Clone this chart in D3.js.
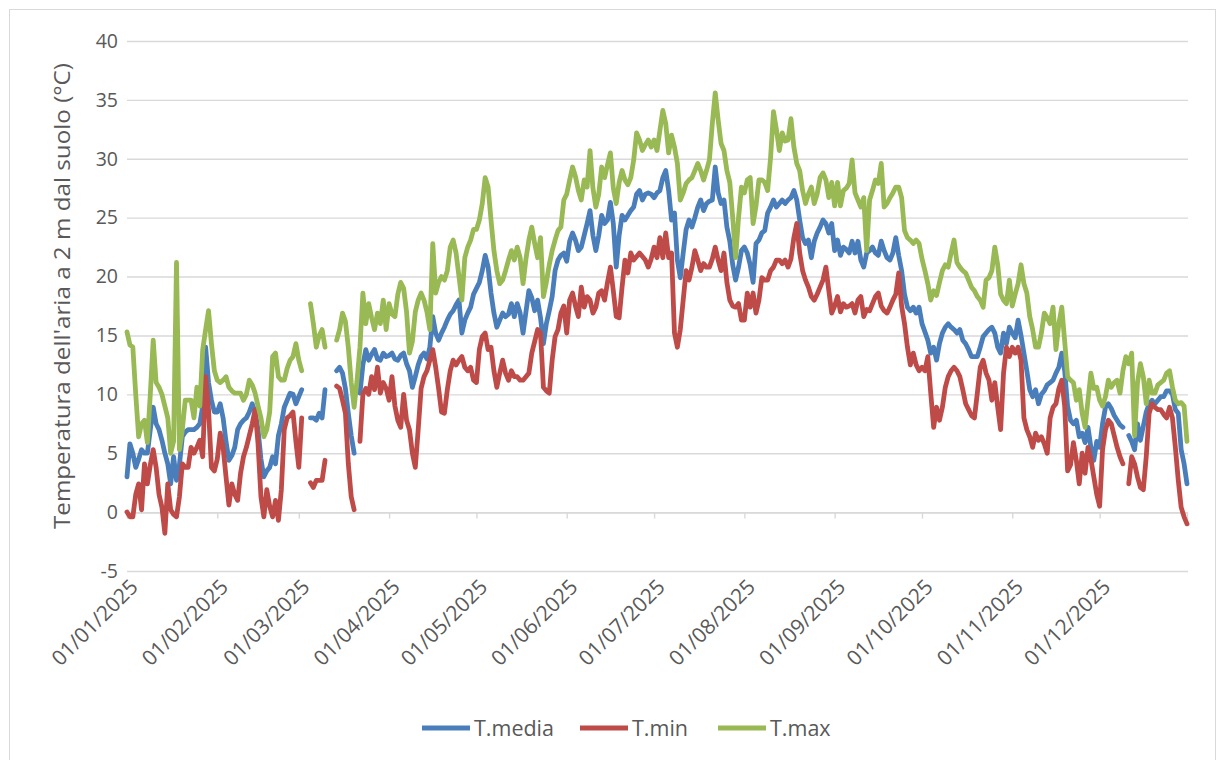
<!DOCTYPE html>
<html>
<head>
<meta charset="utf-8">
<script src="https://cdn.jsdelivr.net/npm/d3@7"></script>
<style>
  body { margin: 0; background: #fff; }
  svg text { font-family: "Open Sans", "Noto Sans", sans-serif; fill: #595959; }
</style>
</head>
<body>
<svg id="chart" width="1225" height="760"></svg>
<script>
// daily values, 01/01/2025 .. 31/12/2025 (null = missing day)
var tMedia = [
    // jan
    3, 5.8, 5, 3.8, 4.5, 5.3, 5, 5, 7, 8.9, 7.5, 7, 6.1, 5, 4.1, 2.4, 4.7, 2.7, 4, 6.4, 6.8, 7, 7, 7, 7.2, 7.5, 9, 14, 11, 9.5, 8.5,
    // feb
    8.5, 9.2, 8, 6, 4.4, 4.8, 5.5, 7, 7.5, 7.8, 8, 8.5, 9.2, 8.5, 7, 4.5, 3, 3.5, 3.8, 4.7, 4.1, 6.5, 7.5, 8.9, 9.5, 10.1, 10, 9.2,
    // mar
    9.8, 10.4, null, null, 8, 8, 7.8, 8.4, 8, 10.4, null, null, null, 12, 12.3, 11.8, 10.5, 8.4, 6.5, 5, null, 10.1, 12.5, 13.8, 12.9, 13.4, 13.8, 13, 12.9, 13.5, 13.2,
    // apr
    13.3, 13.5, 13, 12.9, 13.3, 13.5, 12.6, 12, 10.6, 11.5, 12.5, 13.2, 13.5, 13, 14, 16.6, 15.2, 14.6, 15.2, 15.7, 16.3, 16.8, 17.1, 17.6, 18, 15.2, 16.3, 16.9, 17.4, 18.5,
    // may
    19, 19.5, 20.5, 21.8, 20.8, 18.6, 16.9, 15.7, 16.3, 16.9, 16.6, 16.8, 17.7, 16.6, 17.7, 16.9, 15.2, 17, 18.8, 18.2, 17.1, 18, 16.5, 14.3, 16, 17.1, 18.3, 20.5, 21.4, 21.8, 22,
    // jun
    21.3, 23, 23.7, 23.1, 22.2, 22.5, 23.5, 24.5, 25.6, 23.5, 22.2, 23.5, 25.2, 24.5, 24.8, 26.3, 24.5, 20.8, 23.5, 25.2, 24.8, 25.2, 25.6, 25.9, 27, 27.3, 26.5, 27, 27.1, 27,
    // jul
    26.7, 27.1, 27.3, 28.4, 29, 27.3, 24.8, 25.4, 21.4, 19.9, 22, 24, 24.8, 24.2, 25, 25.9, 26.5, 25.6, 26.2, 26.4, 26.5, 29.3, 27.1, 26.2, 26.5, 24.2, 23, 21, 19.7, 20.8, 22.2,
    // aug
    22.5, 22, 21, 19.5, 22.8, 23.1, 23.7, 23.9, 25.4, 25.9, 26.5, 25.9, 26.2, 26.5, 26.2, 26.5, 26.7, 27.3, 26.5, 24.8, 23.3, 22.8, 23.1, 21.6, 23, 23.7, 24.2, 24.8, 24.5, 23.7, 24.5,
    // sep
    22.2, 23.1, 21.8, 22.5, 22.3, 22, 23, 22, 23, 21.4, 20.8, 22, 22.2, 22.5, 22, 21.8, 23, 22.2, 21.6, 21.4, 22, 23.3, 21.8, 20.5, 18.5, 17.4, 17.1, 17.4, 16.9, 17.4,
    // oct
    16, 15.3, 14.6, 13.5, 14, 12.9, 14.3, 15.2, 15.7, 16, 15.7, 15.5, 15.2, 15.5, 14.6, 14.3, 13.8, 13.2, 13.2, 13.2, 14, 14.9, 15.2, 15.5, 15.7, 15.2, 14, 13.5, 15.2, 14.3, 15.7,
    // nov
    15.2, 14.8, 16.3, 15, 13.5, 12, 10.4, 9.8, 10.4, 9.2, 10, 10.3, 10.8, 11, 11.2, 11.8, 12.3, 13.5, 12, 9, 7.8, 7.5, 7.8, 6.4, 6.7, 5.9, 7.2, 5.5, 4.4, 6,
    // dec
    5.5, 7.5, 8.9, 9.2, 8.8, 8.2, 7.8, 7.4, 7.2, null, 6.5, 6, 5.3, 7.5, 6.1, 7.3, 8.5, 9.2, 9.5, 9.2, 9.5, 9.8, 9.8, 10.3, 10.3, 10, 8.7, 8.4, 5.3, 4.1, 2.4
];

var tMin = [
    // jan
    0, -0.4, -0.4, 1.5, 2.4, 0.2, 4.1, 2.4, 4, 5.3, 3.8, 1.5, 0.4, -1.8, 2.4, 0.2, -0.2, -0.4, 1.3, 4.1, 3.8, 3.8, 5.5, 5, 5.5, 6.1, 4.7, 11.5, 8.7, 3.8, 3.5,
    // feb
    4.5, 6.7, 5.5, 3, 0.6, 2.4, 1.5, 1, 3.3, 4.7, 5.5, 6.5, 7.5, 8.7, 5.8, 1.3, -0.4, 1.9, 0.5, -0.4, 1, -0.7, 1.9, 7, 8, 8.2, 8.5, 6,
    // mar
    3.8, 8, null, null, 2.5, 2.1, 2.7, 2.7, 2.7, 4.4, null, null, null, 10.7, 10.5, 9.5, 8.4, 4.1, 1.3, 0.2, null, 6, 10, 10.5, 10, 11.5, 10.4, 12.3, 10.1, 11, 10.5,
    // apr
    9.5, 11.5, 9, 7.8, 7.2, 10, 7.8, 7, 5, 3.8, 7, 10.5, 11.5, 12, 12.9, 13.8, 12.3, 10.5, 8.5, 8.4, 10.4, 12, 12.9, 12.5, 12.9, 13.2, 12.3, 12, 12.3, 11.2,
    // may
    11, 13.8, 14.9, 15.2, 13.8, 14, 12, 10.6, 11.8, 12.9, 11.8, 11.2, 12, 11.5, 11.5, 11.2, 11.2, 11.5, 11.8, 13.5, 14.5, 15.5, 15.2, 10.6, 10.3, 10.1, 12.9, 14.9, 15.5, 16.9, 17.5,
    // jun
    15.2, 18, 18.6, 17.5, 16.6, 19.1, 17.4, 18.3, 18, 16.9, 17.4, 18.6, 18.8, 18, 19.5, 20.8, 18.8, 16.6, 16.5, 19.1, 21.4, 20.3, 22, 21.4, 21.7, 22, 21.7, 21.4, 20.8, 21.5,
    // jul
    22.5, 21.6, 23.3, 21.6, 23.7, 21.6, 22, 15.2, 14, 15.5, 18, 20.5, 19.7, 20.8, 22.2, 21.4, 20.5, 21.1, 20.8, 20.8, 21.5, 22.5, 21.4, 20.5, 22, 19.5, 18, 17.5, 17.4, 17.7, 16.3,
    // aug
    16.3, 18.6, 17.4, 18.6, 16.9, 18, 19.9, 19.7, 19.7, 20.5, 20.8, 21.4, 21.4, 21.1, 21.4, 20.8, 21.5, 23.3, 24.5, 22, 20.5, 19.7, 19.1, 18.3, 18, 18.5, 19.1, 19.7, 20.8, 18.8, 16.9,
    // sep
    17.5, 18.3, 17, 17.7, 17.4, 17.5, 17.7, 16.9, 18, 18.3, 16.6, 17.2, 17.1, 17.7, 18.3, 18.6, 17.5, 17.1, 16.9, 17.4, 18, 18.5, 20.3, 17.5, 16, 14, 12.5, 13.5, 12.5, 12,
    // oct
    12.3, 12, 13.2, 10.1, 7.2, 8.9, 7.8, 8.9, 10.6, 11.5, 12, 12.3, 12, 11.5, 10.4, 9.2, 8.7, 8.2, 8, 10.1, 12.3, 12.9, 11.8, 11.2, 9.5, 11, 8.9, 7, 11.8, 14, 13.2,
    // nov
    14, 13.5, 14, 12.9, 8, 7, 6.4, 5.5, 6.7, 6.1, 6.4, 5.8, 5, 8, 8.9, 9.2, 10.5, 11.2, 9, 3.5, 4, 5.9, 4.4, 2.4, 5, 3.3, 5.5, 4.5, 3, 1.5,
    // dec
    0.5, 5.3, 7, 7.8, 7.5, 6.5, 5.5, 4.7, 4.1, null, 2.4, 4.7, 4.1, 3, 2.1, 1.9, 4.7, 8.4, 9.2, 8.9, 8.7, 8.7, 8.3, 8, 8.9, 8, 5.5, 2.7, 0.4, -0.4, -1
];

var tMax = [
    // jan
    15.3, 14.2, 14, 10, 6.4, 7.5, 7.8, 5.9, 10, 14.6, 11, 10.6, 10, 9, 8, 5, 6, 21.2, 5.3, 7, 9.5, 9.5, 9.5, 8, 10.6, 9, 13.8, 15.5, 17.1, 14.3, 12,
    // feb
    11.2, 11, 11.2, 11.5, 10.6, 10.3, 10.1, 10.1, 10.1, 9.5, 10, 11.2, 10.8, 10.1, 9, 8, 6.4, 7, 8.5, 13.2, 13.5, 11.5, 11.2, 11.2, 12.2, 12.9, 13.2, 14.3,
    // mar
    12.9, 12, null, null, 17.7, 16, 14, 15, 15.5, 14, null, null, null, 14.6, 15.5, 16.9, 16.2, 14, 11, 8.9, 11.2, 14, 18.6, 16, 17.7, 16.5, 15.5, 16.9, 16, 18, 15.5,
    // apr
    17.7, 16.8, 16.6, 18.5, 19.5, 19, 17, 13.5, 14.5, 17, 18, 18.6, 18, 17, 15.5, 22.8, 18.6, 19.5, 20, 19.7, 20.5, 22.5, 23.1, 22, 20, 18, 21.6, 22.5, 23.1, 24,
    // may
    24, 24.8, 26.2, 28.4, 27.6, 24.8, 22.2, 20.5, 19.4, 19.7, 20.5, 21.4, 22.2, 21.4, 22.5, 21.6, 19.4, 21.5, 23.1, 24.2, 22.8, 21.6, 23.3, 18.3, 19.5, 21, 22.2, 23.1, 23.9, 24.2, 26.5,
    // jun
    27, 28.2, 29.3, 28.5, 27.3, 26.5, 28.2, 27.6, 30.7, 27.5, 25.9, 27, 29.3, 28.4, 29.5, 30.5, 27.5, 26.2, 28, 29, 28.2, 27.8, 28.4, 29.9, 32.2, 31.6, 30.7, 31.2, 31.6, 31,
    // jul
    31.6, 30.7, 32.4, 34.1, 33, 30.5, 32, 31, 29.6, 26.5, 27.1, 27.9, 28.2, 28.4, 29, 29.6, 29, 28.2, 29, 29.9, 33, 35.6, 33.3, 31.3, 30.7, 29, 28, 25, 21.6, 25, 27.6,
    // aug
    27.1, 28.2, 28.4, 24.5, 26, 28.2, 28.2, 28, 27.3, 30.1, 34, 32.5, 30.7, 32.2, 31.5, 31.6, 33.4, 31, 29.6, 29, 27.3, 26.2, 27, 27.6, 26.2, 27, 28.4, 28.8, 28.2, 26.7, 28,
    // sep
    26, 28, 26, 27.3, 27.5, 27.9, 29.9, 27.1, 26.5, 25.9, 26.7, 22.2, 26.5, 27.3, 28.2, 27.9, 29.6, 25.9, 26.2, 26.7, 27.1, 27.6, 27.6, 26.7, 23.9, 23.3, 23.1, 22.8, 23.1, 22.8,
    // oct
    21.5, 20.5, 19.4, 18, 18.8, 18.4, 19.5, 20.5, 21, 20.8, 22, 23.1, 21.2, 20.8, 20.5, 20.3, 19.7, 19.1, 18.8, 18.3, 18, 17.4, 19.7, 19.9, 20.5, 22.5, 21, 18.5, 18, 17.7, 19.7,
    // nov
    17.5, 18.5, 19.4, 21, 19.4, 18.6, 16.6, 15.5, 14, 14, 15.2, 16.9, 16.5, 16, 17.4, 13.8, 16, 17.4, 14.5, 11.5, 11.2, 11, 9.5, 10.4, 8.4, 7.2, 9.5, 11.8, 10.5, 10.6,
    // dec
    9.5, 9, 9.8, 11.2, 10.6, 11, 11.2, 10.1, 12, 13.2, 12.6, 13.5, 6.5, 11, 12.6, 11.5, 9.2, 11.2, 10.1, 10.1, 10.8, 11, 11.2, 11.8, 12, 10.6, 9.5, 9.2, 9.3, 9, 6
];

var seriesNames = ["T.media", "T.min", "T.max"];
var seriesColors = ["#4a7ebb", "#be4b48", "#98b954"];
var yTicks = [-5, 0, 5, 10, 15, 20, 25, 30, 35, 40];
var yTitle = "Temperatura dell'aria a 2 m dal suolo (°C)";

var parseDay = d3.timeParse("%Y-%m-%d");
var days = d3.timeDay.range(parseDay("2025-01-01"), parseDay("2026-01-01"));
var monthStarts = d3.timeMonth.range(parseDay("2025-01-01"), parseDay("2026-01-01"));

var svg = d3.select("#chart");

// chart area border
svg.append("rect")
    .attr("x", 9.5).attr("y", 9.5)
    .attr("width", 1206).attr("height", 770)
    .attr("fill", "none")
    .attr("stroke", "#d9d9d9");

var x = d3.scaleTime()
    .domain([days[0], days[days.length - 1]])
    .range([127, 1187]);

var y = d3.scaleLinear()
    .domain([-5, 40])
    .range([571, 41]);

// gridlines
svg.append("g")
    .selectAll("line")
    .data(yTicks)
    .enter().append("line")
    .attr("x1", 127).attr("x2", 1188)
    .attr("y1", function (d) { return y(d) + 0.5; })
    .attr("y2", function (d) { return y(d) + 0.5; })
    .attr("stroke", "#d9d9d9")
    .attr("stroke-width", 1.4);

// y labels
var yAxis = svg.append("g")
    .attr("transform", "translate(118,0)")
    .call(d3.axisLeft(y).tickValues(yTicks).tickSize(0).tickPadding(0)
        .tickFormat(function (d) { return String(d); }));
yAxis.select(".domain").remove();
yAxis.selectAll("text")
    .style("font-size", "19.5px")
    .attr("fill", "#595959");

// x axis at zero with month ticks
var xAxis = svg.append("g")
    .attr("transform", "translate(0," + (y(0) + 0.5) + ")")
    .call(d3.axisBottom(x).tickValues(monthStarts).tickSize(6).tickFormat(""));
xAxis.select(".domain").attr("stroke", "#d9d9d9").attr("stroke-width", 1.4);
xAxis.selectAll(".tick line").attr("stroke", "#d9d9d9").attr("stroke-width", 1.4);

var fmt = d3.timeFormat("%d/%m/%Y");
svg.append("g")
    .selectAll("text")
    .data(monthStarts)
    .enter().append("text")
    .attr("transform", function (d) {
        return "translate(" + (x(d) + 7) + ",583) rotate(-45)";
    })
    .attr("text-anchor", "end")
    .attr("dy", "0.35em")
    .style("font-size", "21px")
    .text(function (d) { return fmt(d); });

// y title
svg.append("text")
    .attr("transform", "translate(70,296) rotate(-90)")
    .attr("text-anchor", "middle")
    .style("font-size", "21px")
    .attr("textLength", 466)
    .attr("lengthAdjust", "spacingAndGlyphs")
    .text(yTitle);

// lines
var allSeries = [tMedia, tMin, tMax];
var line = d3.line()
    .defined(function (d) { return d != null; })
    .x(function (d, i) { return x(days[i]); })
    .y(function (d) { return y(d); })
    .curve(d3.curveLinear);

svg.append("g")
    .selectAll("path")
    .data(allSeries)
    .enter().append("path")
    .attr("d", line)
    .attr("fill", "none")
    .attr("stroke", function (d, i) { return seriesColors[i]; })
    .attr("stroke-width", 4.8)
    .attr("stroke-linejoin", "round")
    .attr("stroke-linecap", "round");

// legend
var legendX = [422, 580, 718];
var legend = svg.append("g")
    .selectAll("g")
    .data(seriesNames)
    .enter().append("g")
    .attr("transform", function (d, i) { return "translate(" + legendX[i] + ",728)"; });
legend.append("line")
    .attr("x1", 0).attr("x2", 48)
    .attr("stroke", function (d, i) { return seriesColors[i]; })
    .attr("stroke-width", 4.8);
legend.append("text")
    .attr("x", 52)
    .attr("dy", "0.35em")
    .style("font-size", "21.5px")
    .text(function (d) { return d; });
</script>
</body>
</html>
